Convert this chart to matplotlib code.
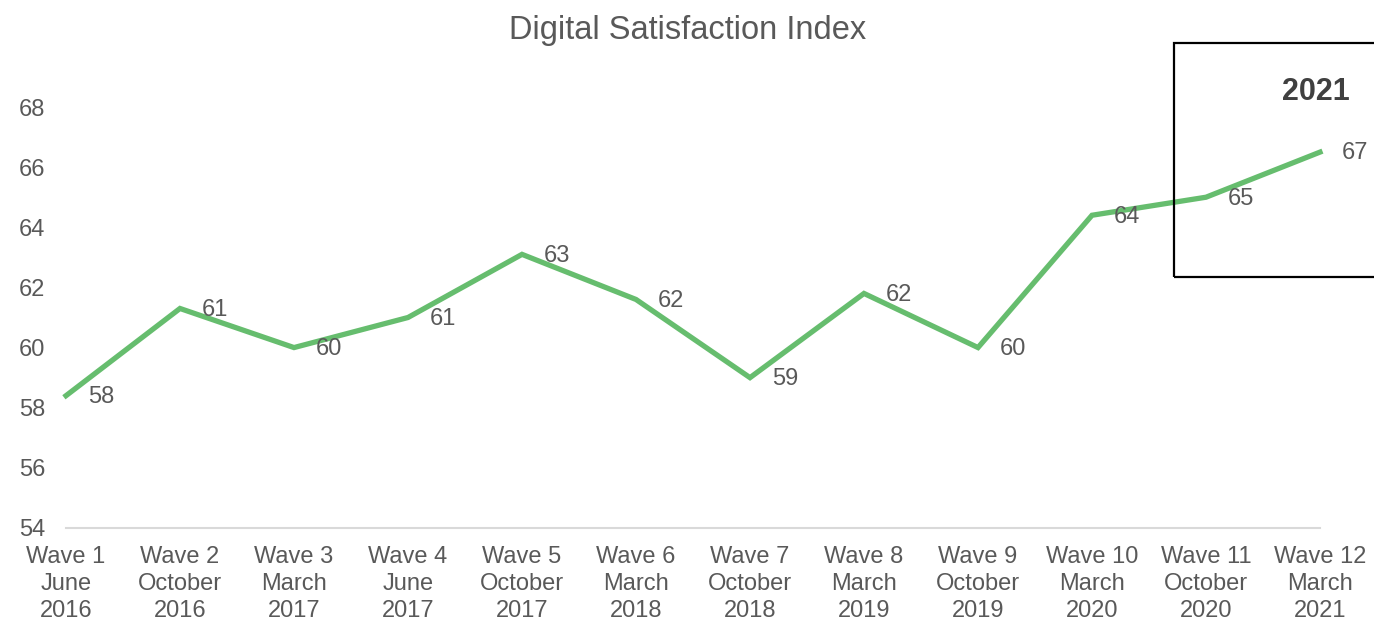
import matplotlib
matplotlib.use("Agg")
import matplotlib.pyplot as plt
from matplotlib.patches import Rectangle

plt.rcParams['font.family'] = ['Liberation Sans', 'DejaVu Sans']

waves = ["Wave 1", "Wave 2", "Wave 3", "Wave 4", "Wave 5", "Wave 6",
         "Wave 7", "Wave 8", "Wave 9", "Wave 10", "Wave 11", "Wave 12"]
months = ["June", "October", "March", "June", "October", "March",
          "October", "March", "October", "March", "October", "March"]
years = ["2016", "2016", "2017", "2017", "2017", "2018",
         "2018", "2019", "2019", "2020", "2020", "2021"]
values = [58.4, 61.3, 60.0, 61.0, 63.1, 61.6, 59.0, 61.8, 60.0, 64.4, 65.0, 66.5]
yticks = [54, 56, 58, 60, 62, 64, 66, 68]

W, H = 1374, 621
fig = plt.figure(figsize=(W / 100, H / 100), dpi=100)
ax = fig.add_axes([66 / W, (H - 528) / H, (1320 - 66) / W, (528 - 107) / H])

TXT = '#595959'
GREEN = '#66BD6E'
FS = 17

x = list(range(len(values)))
ax.plot(x, values, color=GREEN, lw=3.8, solid_joinstyle='miter', clip_on=False, zorder=3)
for xi, v in zip(x, values):
    ax.annotate(f"{int(v + 0.5)}", (xi, v), xytext=(16, -1), textcoords='offset points',
                ha='left', va='center', fontsize=FS, color=TXT)

ax.set_xlim(0, len(values) - 1)
ax.set_ylim(54, 68)
ax.set_yticks(yticks)
ax.set_yticklabels([str(t) for t in yticks])
ax.set_xticks(x)
ax.set_xticklabels([f"{w}\n{m}\n{y}" for w, m, y in zip(waves, months, years)],
                   linespacing=1.3)
ax.tick_params(axis='both', length=0, labelsize=FS, labelcolor=TXT)
ax.tick_params(axis='y', pad=15)
ax.tick_params(axis='x', pad=13)
for s in ['top', 'right', 'left']:
    ax.spines[s].set_visible(False)
ax.spines['bottom'].set_color('#D9D9D9')
ax.spines['bottom'].set_linewidth(1.5)

fig.text(688 / W, 1 - 31 / H, "Digital Satisfaction Index", ha='center', va='center',
         fontsize=23.5, color=TXT)

rect = Rectangle((1174 / W, 1 - 277 / H), (1380 - 1174) / W, (277 - 43) / H,
                 transform=fig.transFigure, fill=False, edgecolor='black', lw=1.6,
                 clip_on=False)
fig.patches.append(rect)
fig.text(1316 / W, 1 - 92 / H, "2021", ha='center', va='center', fontsize=22,
         fontweight='bold', color='#404040')

fig.savefig("out.png", dpi=100)
